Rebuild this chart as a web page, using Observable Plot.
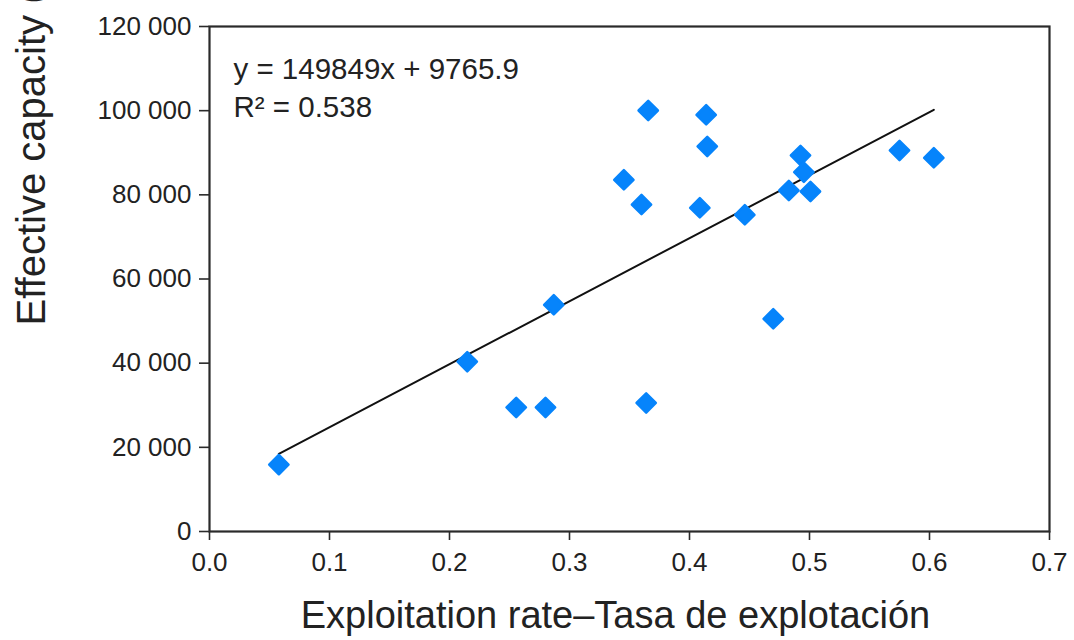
<!DOCTYPE html>
<html>
<head>
<meta charset="utf-8">
<script src="https://cdn.jsdelivr.net/npm/d3@7"></script>
<script src="https://cdn.jsdelivr.net/npm/@observablehq/plot@0.6"></script>
<style>
  html, body { margin: 0; padding: 0; background: #fff; }
  #chart { width: 1074px; height: 640px; overflow: hidden; }
</style>
</head>
<body>
<div id="chart"></div>
<script>
// Data
const exploitationRate = [0.0578, 0.2148, 0.2556, 0.2800, 0.2869, 0.3453, 0.3600, 0.3639, 0.3656, 0.4139,
                          0.4148, 0.4086, 0.4461, 0.4698, 0.4828, 0.4925, 0.4953, 0.5008, 0.5750, 0.6036];
const effectiveCapacity = [15900, 40350, 29470, 29470, 53870, 83570, 77700, 30540, 100040, 99020,
                           91490, 76920, 75260, 50540, 81030, 89350, 85380, 80790, 90540, 88800];
const fitSlope = 149849;
const fitIntercept = 9765.9;
const equationLabel = "y = 149849x + 9765.9\nR² = 0.538";
const xTicks = [0, 0.1, 0.2, 0.3, 0.4, 0.5, 0.6, 0.7];
const yTicks = [0, 20000, 40000, 60000, 80000, 100000, 120000];
const xTitle = "Exploitation rate–Tasa de explotación";
const yTitle = "Effective capacity (t)";

const points = exploitationRate.map((x, i) => ({x, y: effectiveCapacity[i]}));
const fitLine = d3.extent(exploitationRate).map(x => ({x, y: fitSlope * x + fitIntercept}));

const fmtY = d => d3.format(",")(d).replace(/,/g, " ");
const fmtX = d3.format(".1f");

const chart = Plot.plot({
  width: 1074,
  height: 640,
  marginLeft: 209,
  marginRight: 25,
  marginTop: 26,
  marginBottom: 109,
  style: {fontFamily: "'Liberation Sans', Arial, sans-serif", background: "#fff", color: "#222", overflow: "visible"},
  x: {domain: [0, 0.7]},
  y: {domain: [0, 120000]},
  marks: [
    Plot.frame({stroke: "#2a2a2a", strokeWidth: 2.2}),
    Plot.axisX({ticks: xTicks, tickFormat: fmtX, tickSize: 9, tickPadding: 12, fontSize: 26, stroke: "#2a2a2a", strokeWidth: 1.6, fill: "#222", label: null}),
    Plot.axisY({ticks: yTicks, tickFormat: fmtY, tickSize: 10, tickPadding: 8, fontSize: 26, stroke: "#2a2a2a", strokeWidth: 1.6, fill: "#222", label: null}),
    Plot.line(fitLine, {x: "x", y: "y", stroke: "#111", strokeWidth: 2}),
    Plot.dot(points, {x: "x", y: "y", symbol: "diamond2", r: 8.7, fill: "#0684fb", stroke: "#0684fb", strokeWidth: 2.5, strokeLinejoin: "round"}),
    Plot.text([equationLabel], {frameAnchor: "top-left", dx: 24, dy: 25, textAnchor: "start", lineAnchor: "top", lineHeight: 1.3, fontSize: 29.5, fill: "#222"}),
    Plot.text([xTitle], {frameAnchor: "bottom", dx: -14, dy: 96, lineAnchor: "bottom", fontSize: 38, fill: "#222"}),
    Plot.text([yTitle], {frameAnchor: "left", rotate: -90, textAnchor: "start", lineAnchor: "bottom", dx: -165, dy: 46.5, fontSize: 40, fill: "#222"})
  ]
});
document.getElementById("chart").appendChild(chart);
</script>
</body>
</html>
